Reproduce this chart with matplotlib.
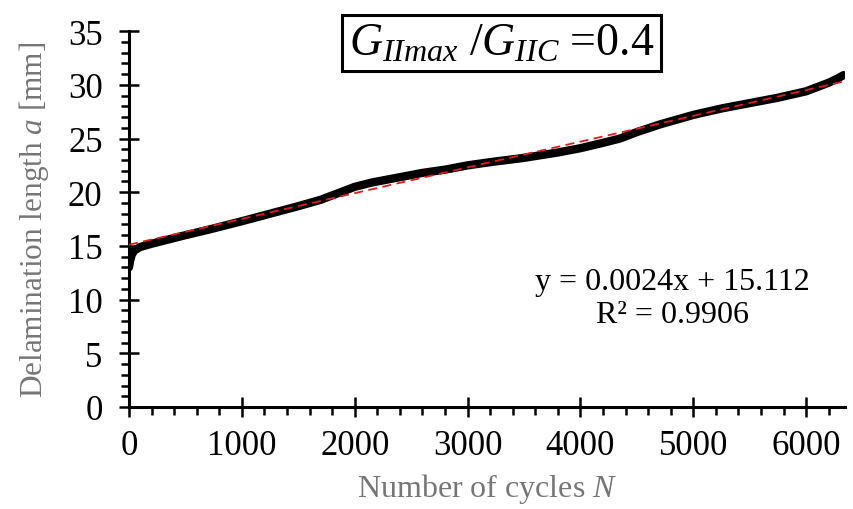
import matplotlib.pyplot as plt
from matplotlib.ticker import MultipleLocator

plt.rcParams['font.family'] = ['Liberation Serif', 'DejaVu Serif']
plt.rcParams['mathtext.fontset'] = 'custom'
plt.rcParams['mathtext.rm'] = 'Liberation Serif'
plt.rcParams['mathtext.it'] = 'Liberation Serif:italic'

cycles = [0, 10, 25, 50, 100, 200, 350, 500, 700, 1000, 1250, 1500, 1700, 1850, 2000, 2150,
          2300, 2450, 2600, 2800, 3000, 3200, 3500, 3800, 4000, 4200, 4350, 4500, 4700,
          5000, 5250, 5500, 5750, 6000, 6100, 6200, 6280, 6330]
length = [13.0, 13.6, 14.2, 14.6, 14.9, 15.2, 15.6, 16.0, 16.5, 17.3, 18.0, 18.7, 19.3,
          19.9, 20.5, 20.9, 21.2, 21.5, 21.8, 22.1, 22.5, 22.8, 23.2, 23.7, 24.1, 24.6,
          25.0, 25.6, 26.3, 27.2, 27.8, 28.3, 28.8, 29.4, 29.8, 30.2, 30.6, 30.9]

slope = 0.0024
intercept = 15.112
fit_x = [0, 6330]
fit_y = [slope * v + intercept for v in fit_x]

fig = plt.figure(figsize=(8.54, 5.10), dpi=100)
ax = fig.add_axes([0.151, 0.2, 0.838, 0.737])

ax.plot(cycles, length, color='black', linewidth=6, solid_capstyle='round', zorder=2)
ax.plot(fit_x, fit_y, color='#e8191a', linewidth=1.3, linestyle=(0, (5, 3)), zorder=3)

ax.set_xlim(0, 6340)
ax.set_ylim(0, 35)
ax.xaxis.set_major_locator(MultipleLocator(1000))
ax.xaxis.set_minor_locator(MultipleLocator(200))
ax.yaxis.set_major_locator(MultipleLocator(5))
ax.yaxis.set_minor_locator(MultipleLocator(1))

for side in ['top', 'right']:
    ax.spines[side].set_visible(False)
for side in ['left', 'bottom']:
    ax.spines[side].set_linewidth(2.2)
    ax.spines[side].set_color('black')

ax.tick_params(which='major', direction='inout', length=14, width=1.8, labelsize=25)
ax.tick_params(axis='y', which='major', pad=12)
ax.tick_params(axis='x', which='major', pad=9)
ax.tick_params(which='minor', direction='out', length=6, width=1.8)

ax.set_xlabel('Number of cycles $\\mathit{N}$', fontsize=23, color='#767676', labelpad=6)
ax.set_ylabel('Delamination length $\\mathit{a}$ [mm]', fontsize=22.5, color='#767676', labelpad=12)

ax.text(0.76, 0.29, 'y = 0.0024x + 15.112\nR² = 0.9906', transform=ax.transAxes,
        fontsize=23, ha='center', va='center', linespacing=1.15)

fig.text(0.587, 0.913, '$G_{\\mathit{IImax}}\\ /G_{\\mathit{IIC}}\\ $=0.4', fontsize=33,
         ha='center', va='center',
         bbox=dict(boxstyle='square,pad=0.15', facecolor='white', edgecolor='black', linewidth=2.2))

fig.savefig('out.png', dpi=100)
